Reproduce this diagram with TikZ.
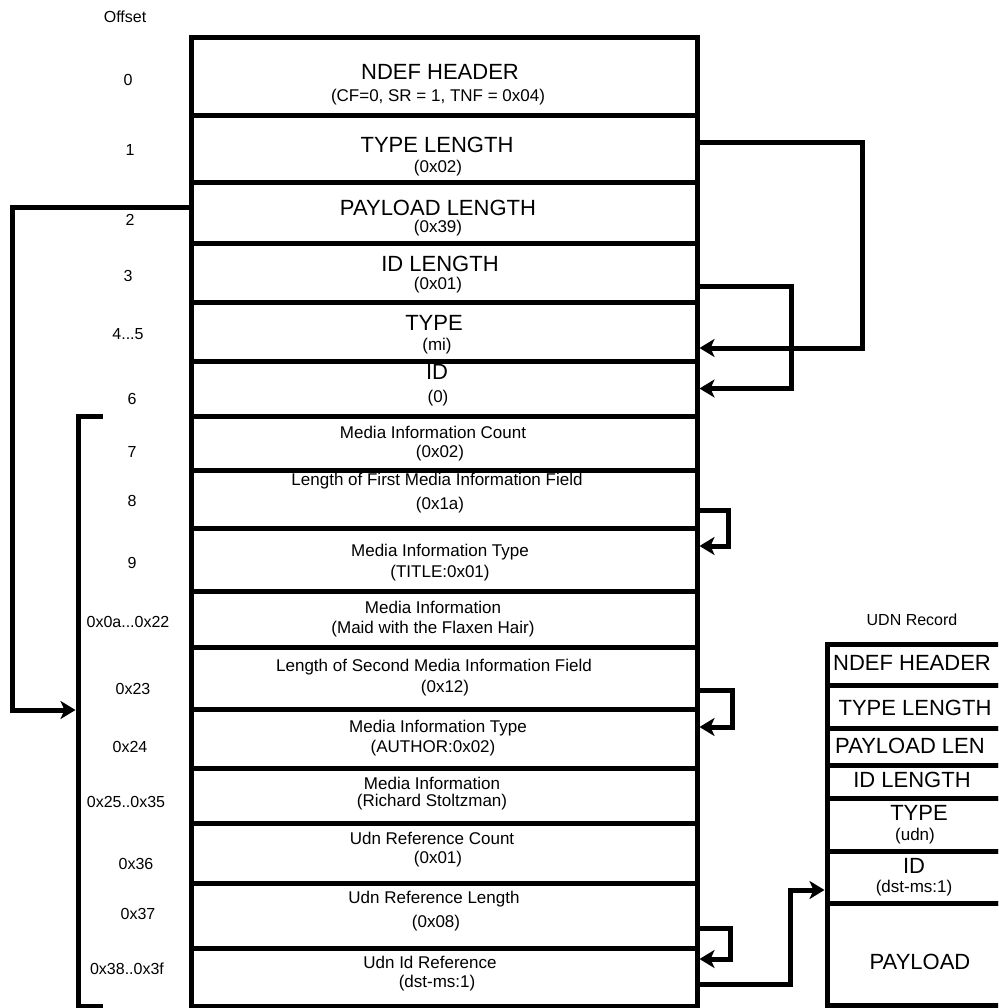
\documentclass[tikz,border=0pt]{standalone}
\usepackage{fontspec}
\setmainfont{Liberation Sans}
\usetikzlibrary{arrows.meta}
\tikzset{
    RB/.style ={rectangle, draw, line width=5pt, minimum width=506pt, inner sep=0pt},
    UB/.style ={rectangle, draw, line width=5pt, minimum width=176pt, inner sep=0pt},
    BT/.style ={inner sep=0pt, font=\fontsize{22}{24}\selectfont},
    ST/.style ={inner sep=0pt, font=\fontsize{17}{19}\selectfont},
    OT/.style ={inner sep=0pt, font=\fontsize{16}{18}\selectfont},
    LN/.style ={line width=5pt},
    LK/.style ={line width=5pt, -{Stealth[length=15pt,width=18pt,inset=4pt]}}}

\begin{document}
\begin{tikzpicture}[x=1pt,y=-1pt]
        \clip (0,0) rectangle (998,1008);
        \node[RB, minimum height=78pt] (hdr) at (444,77) {};
        \node[RB, minimum height=67pt] (tl) at (444,149.5) {};
        \node[RB, minimum height=60pt] (pl) at (444,213) {};
        \node[RB, minimum height=59pt] (il) at (444,272.5) {};
        \node[RB, minimum height=59pt] (ty) at (444,331.5) {};
        \node[RB, minimum height=55pt] (id) at (444,388.5) {};
        \node[RB, minimum height=54pt] (mic) at (444,443) {};
        \node[RB, minimum height=58pt] (lf) at (444,499) {};
        \node[RB, minimum height=63pt] (mt1) at (444,559.5) {};
        \node[RB, minimum height=56pt] (mi1) at (444,619) {};
        \node[RB, minimum height=62pt] (ls) at (444,678) {};
        \node[RB, minimum height=59pt] (mt2) at (444,738.5) {};
        \node[RB, minimum height=55pt] (mi2) at (444,795.5) {};
        \node[RB, minimum height=60pt] (urc) at (444,853) {};
        \node[RB, minimum height=65pt] (url) at (444,915.5) {};
        \node[RB, minimum height=58pt] (uir) at (444,977) {};

        \node[BT] (hdrT) at (440,72) {NDEF HEADER};
        \node[ST] (hdrS) at (438,97) {(CF=0, SR = 1, TNF = 0x04)};
        \node[BT] (tlT) at (437,145) {TYPE LENGTH};
        \node[ST] (tlS) at (438,168) {(0x02)};
        \node[BT] (plT) at (438,208) {PAYLOAD LENGTH};
        \node[ST] (plS) at (438,228) {(0x39)};
        \node[BT] (ilT) at (440,264) {ID LENGTH};
        \node[ST] (ilS) at (438,285) {(0x01)};
        \node[BT] (tyT) at (434,323) {TYPE};
        \node[ST] (tyS) at (437,346) {(mi)};
        \node[BT] (idT) at (437,372) {ID};
        \node[ST] (idS) at (438,398) {(0)};
        \node[ST] (micT) at (433,432) {Media Information Count};
        \node[ST] (micS) at (440,453) {(0x02)};
        \node[ST] (lfT) at (437,481) {Length of First Media Information Field};
        \node[ST] (lfS) at (440,505) {(0x1a)};
        \node[ST] (mt1T) at (440,552) {Media Information Type};
        \node[ST] (mt1S) at (440,573) {(TITLE:0x01)};
        \node[ST] (mi1T) at (433,607) {Media Information};
        \node[ST] (mi1S) at (433,629) {(Maid with the Flaxen Hair)};
        \node[ST] (lsT) at (434,667) {Length of Second Media Information Field};
        \node[ST] (lsS) at (445,688) {(0x12)};
        \node[ST] (mt2T) at (438,728) {Media Information Type};
        \node[ST] (mt2S) at (433,748) {(AUTHOR:0x02)};
        \node[ST] (mi2T) at (432,783) {Media Information};
        \node[ST] (mi2S) at (432,802) {(Richard Stoltzman)};
        \node[ST] (urcT) at (432,838) {Udn Reference Count};
        \node[ST] (urcS) at (438,859) {(0x01)};
        \node[ST] (urlT) at (434,899) {Udn Reference Length};
        \node[ST] (urlS) at (436,923) {(0x08)};
        \node[ST] (uirT) at (430,962) {Udn Id Reference};
        \node[ST] (uirS) at (437,983) {(dst-ms:1)};

        \node[OT] (oT) at (125,17) {Offset};
        \node[OT] (o0) at (128,80) {0};
        \node[OT] (o1) at (130,150) {1};
        \node[OT] (o2) at (130,220) {2};
        \node[OT] (o3) at (128,276) {3};
        \node[OT] (o4) at (128,334) {4...5};
        \node[OT] (o6) at (132,399) {6};
        \node[OT] (o7) at (132,452) {7};
        \node[OT] (o8) at (132,501) {8};
        \node[OT] (o9) at (132,563) {9};
        \node[OT] (oA) at (128,622) {0x0a...0x22};
        \node[OT] (oB) at (133,689) {0x23};
        \node[OT] (oC) at (130,747) {0x24};
        \node[OT] (oD) at (126,802) {0x25..0x35};
        \node[OT] (oE) at (136,864) {0x36};
        \node[OT] (oF) at (138,914) {0x37};
        \node[OT] (oG) at (127,969) {0x38..0x3f};

        \node[OT] (uT) at (912,620) {UDN Record};
        \node[BT] (uhdT) at (912,663) {NDEF HEADER};
        \node[BT] (utlT) at (915,708) {TYPE LENGTH};
        \node[BT] (uplT) at (910,746) {PAYLOAD LEN};
        \node[BT] (uilT) at (912,780) {ID LENGTH};
        \node[BT] (utyT) at (919,813) {TYPE};
        \node[ST] (utyS) at (915,836) {(udn)};
        \node[BT] (uidT) at (914,866) {ID};
        \node[ST] (uidS) at (914,888) {(dst-ms:1)};
        \node[BT] (upyT) at (920,962) {PAYLOAD};
        \node[UB, minimum height=41pt] (uhd) at (915,664.5) {};
        \node[UB, minimum height=43pt] (utl) at (915,706.5) {};
        \node[UB, minimum height=37pt] (upl) at (915,746.5) {};
        \node[UB, minimum height=33pt] (uil) at (915,781.5) {};
        \node[UB, minimum height=53pt] (uty) at (915,824.5) {};
        \node[UB, minimum height=52pt] (uid) at (915,877) {};
        \node[UB, minimum height=102pt] (upy) at (915,954) {};

        \coordinate (brk) at (78,710);
        \draw[LN] (103,416) -- (78,416) -- (78,1006) -- (103,1006);
        \draw[LK] ([yshift=5pt]pl.west) -- ++(-176,0) |- ([xshift=-2.5pt]brk);
        \draw[LK] ([yshift=7pt]tl.east) -- ++(163,0) |- ([yshift=-16.5pt]ty.east);
        \draw[LK] ([yshift=-13.5pt]il.east) -- ++(92,0) |- (id.east);
        \draw[LK] ([yshift=-11pt]lf.east) -- ++(28.5,0) |- ([yshift=13.5pt]mt1.east);
        \draw[LK] ([yshift=-12pt]ls.east) -- ++(32.5,0) |- ([yshift=11.5pt]mt2.east);
        \draw[LK] ([yshift=-12.5pt]url.east) -- ++(30.5,0) |- ([yshift=18pt]uir.east);
        \draw[LK] ([yshift=-7pt]uir.east) -- ++(90.5,0) |- ([yshift=-13pt]uid.west);
    \end{tikzpicture}
\end{document}
